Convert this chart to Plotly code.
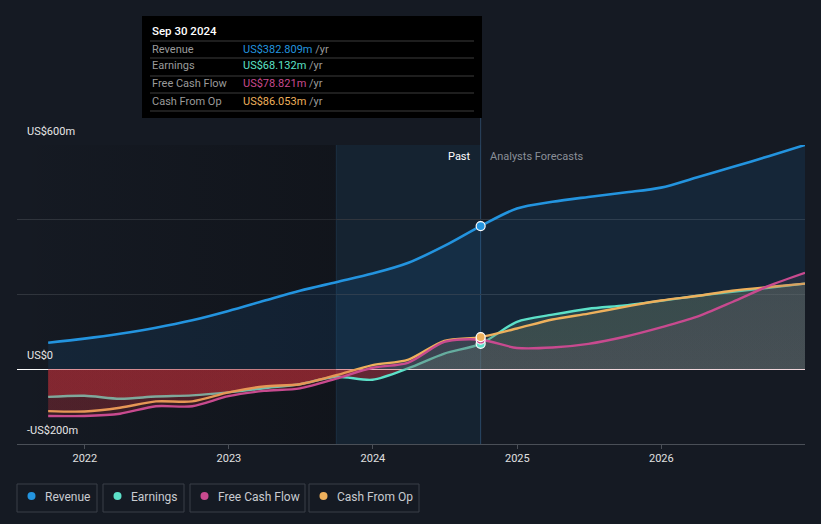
import plotly.graph_objects as go

# ---------------- DATA ----------------
past_dates = ["2021-09-30", "2021-12-31", "2022-03-31", "2022-06-30", "2022-09-30",
              "2022-12-31", "2023-03-31", "2023-06-30", "2023-09-30", "2023-12-31",
              "2024-03-31", "2024-06-30", "2024-09-30"]
fc_dates = ["2024-09-30", "2024-12-31", "2025-03-31", "2025-06-30", "2025-09-30",
            "2025-12-31", "2026-03-31", "2026-06-30", "2026-09-30", "2026-12-31"]

revenue_past = [71, 82, 95, 111, 131, 156, 183, 210, 233, 256, 285, 330, 383]
revenue_fc = [383, 430, 448, 461, 473, 486, 513, 541, 570, 600]

earnings_past = [-74, -71, -79, -73, -70, -62, -51, -40, -20, -28, 3, 42, 68]
earnings_fc = [68, 127, 146, 162, 171, 183, 196, 207, 218, 229]

fcf_past = [-125, -125, -119, -99, -99, -72, -58, -51, -25, 4, 18, 73, 79]
fcf_fc = [79, 57, 58, 68, 87, 112, 140, 180, 223, 258]

cfo_past = [-112, -113, -103, -86, -86, -62, -46, -40, -16, 11, 26, 76, 86]
cfo_fc = [86, 109, 133, 149, 167, 184, 196, 210, 220, 229]

tooltip_date = "Sep 30 2024"
tooltip_vals = {"Revenue": "382.809", "Earnings": "68.132",
                "Free Cash Flow": "78.821", "Cash From Op": "86.053"}

year_ticks = ["2022-01-01", "2023-01-01", "2024-01-01", "2025-01-01", "2026-01-01"]
year_labels = ["2022", "2023", "2024", "2025", "2026"]
y_labels = {600: "US$600m", 0: "US$0", -200: "-US$200m"}

# ---------------- STYLE ----------------
BG = "#151a23"
C_REV = "#2394df"
C_EARN = "#5ce0c8"
C_FCF = "#c84a8f"
C_CFO = "#eeb05c"
FONT = "Roboto"

X0, X1 = "2021-07-13", "2026-12-31"
Y0, Y1 = -200, 600
band_start, band_end = "2023-09-30", "2024-09-30"

L, R, T, B = 17, 16, 145, 80
W, H = 821, 524
PW, PH = W - L - R, H - T - B


def PX(x):
    return (x - L) / PW


def PY(y):
    return (H - B - y) / PH


def grad(neg, pos_lo, pos_hi):
    z = (0 - Y0) / (Y1 - Y0)
    return dict(type="vertical", start=Y0, stop=Y1,
                colorscale=[[0, neg], [z - 0.0001, neg], [z, pos_lo], [1, pos_hi]])


fig = go.Figure()

# darker left region (gradient)
fig.add_trace(go.Scatter(
    x=[X0, band_start, band_start, X0, X0], y=[Y0, Y0, Y1, Y1, Y0],
    mode="lines", line=dict(width=0), fill="toself",
    fillgradient=dict(type="horizontal",
                      colorscale=[[0, "rgba(8,8,10,0)"], [1, "rgba(8,8,10,0.3)"]]),
    hoverinfo="skip"))

rev_x = past_dates + fc_dates[1:]
rev_y = revenue_past + revenue_fc[1:]
fig.add_trace(go.Scatter(
    x=rev_x, y=rev_y, mode="lines",
    line=dict(color=C_REV, width=2.6, shape="spline", smoothing=0.9),
    fill="tozeroy", fillcolor="rgba(33,150,243,0.10)", hoverinfo="skip"))

series = [
    (earnings_past, earnings_fc, C_EARN,
     grad("rgba(205,45,55,0.42)", "rgba(90,150,130,0.26)", "rgba(90,150,130,0.2)")),
    (cfo_past, cfo_fc, C_CFO,
     grad("rgba(200,50,60,0.15)", "rgba(115,105,85,0.28)", "rgba(110,100,80,0.2)")),
    (fcf_past, fcf_fc, C_FCF,
     grad("rgba(200,50,60,0.20)", "rgba(115,90,115,0.18)", "rgba(110,80,110,0.12)")),
]
for past, fc, col, g in series:
    fig.add_trace(go.Scatter(
        x=past_dates + fc_dates[1:], y=past + fc[1:], mode="lines",
        line=dict(color=col, width=2.4, shape="spline", smoothing=0.8),
        fill="tozeroy", fillgradient=g, hoverinfo="skip"))

# markers at last actual point
for vals, col in [(earnings_past, C_EARN), (fcf_past, C_FCF), (cfo_past, C_CFO), (revenue_past, C_REV)]:
    fig.add_trace(go.Scatter(
        x=[past_dates[-1]], y=[vals[-1]], mode="markers",
        marker=dict(color=col, size=9, line=dict(color="white", width=1.2)),
        hoverinfo="skip"))

shapes = []
# highlight band
shapes.append(dict(type="rect", xref="x", yref="y", x0=band_start, x1=band_end,
                   y0=Y0, y1=Y1, fillcolor="rgba(33,150,243,0.07)", line_width=0, layer="below"))
shapes.append(dict(type="line", xref="x", yref="paper", x0=band_start, x1=band_start,
                   y0=0, y1=1, line=dict(color="rgba(60,110,160,0.25)", width=1), layer="below"))
shapes.append(dict(type="line", xref="x", yref="paper", x0=band_end, x1=band_end,
                   y0=0, y1=PY(118), line=dict(color="rgba(70,120,170,0.45)", width=1), layer="below"))

# tooltip box
shapes.append(dict(type="rect", xref="paper", yref="paper", x0=PX(142), x1=PX(482),
                   y0=PY(118), y1=PY(16), fillcolor="#000000", line_width=0, layer="above"))
for yy in [41, 58, 76, 93, 111]:
    shapes.append(dict(type="line", xref="paper", yref="paper", x0=PX(150), x1=PX(474),
                       y0=PY(yy), y1=PY(yy), line=dict(color="#3c3c3c", width=1), layer="above"))

annotations = []
annotations.append(dict(xref="paper", yref="paper", x=PX(150), y=PY(31), xanchor="left",
                        yanchor="middle", showarrow=False, text=tooltip_date,
                        font=dict(family=FONT, size=11.5, color="#ffffff", weight=500)))
row_y = [49, 66, 84, 101]
row_cols = [C_REV, C_EARN, C_FCF, C_CFO]
for (name, v), yy, col in zip(tooltip_vals.items(), row_y, row_cols):
    annotations.append(dict(xref="paper", yref="paper", x=PX(150), y=PY(yy), xanchor="left",
                            yanchor="middle", showarrow=False, text=name,
                            font=dict(family=FONT, size=11, color="#9a9a9a")))
    annotations.append(dict(xref="paper", yref="paper", x=PX(241), y=PY(yy), xanchor="left",
                            yanchor="middle", showarrow=False,
                            text=f"<span style='color:{col}'>US${v}m</span> /yr",
                            font=dict(family=FONT, size=11, color="#9a9a9a")))

# y labels
for val, txt in y_labels.items():
    annotations.append(dict(xref="paper", yref="y", x=PX(25), y=val, xanchor="left",
                            yanchor="bottom", yshift=5, showarrow=False, text=txt,
                            font=dict(family=FONT, size=11, color="#e6e6e6")))

annotations.append(dict(xref="x", yref="paper", x=band_end, y=PY(156), xanchor="right",
                        xshift=-8, yanchor="middle", showarrow=False, text="Past",
                        font=dict(family=FONT, size=11, color="#ffffff")))
annotations.append(dict(xref="x", yref="paper", x=band_end, y=PY(156), xanchor="left",
                        xshift=7, yanchor="middle", showarrow=False, text="Analysts Forecasts",
                        font=dict(family=FONT, size=11, color="#8a8f98")))

# legend boxes
legend_items = [("Revenue", C_REV, 17, 97), ("Earnings", C_EARN, 103, 184),
                ("Free Cash Flow", C_FCF, 190, 305), ("Cash From Op", C_CFO, 309, 419)]
for name, col, bx0, bx1 in legend_items:
    shapes.append(dict(type="rect", xref="paper", yref="paper", x0=PX(bx0), x1=PX(bx1),
                       y0=PY(512), y1=PY(484), line=dict(color="#3a3f48", width=1),
                       fillcolor="rgba(0,0,0,0)", layer="above"))
    cx, cy, r = bx0 + 14.5, 496, 4
    shapes.append(dict(type="circle", xref="paper", yref="paper", x0=PX(cx - r), x1=PX(cx + r),
                       y0=PY(cy + r), y1=PY(cy - r), fillcolor=col, line_width=0, layer="above"))
    annotations.append(dict(xref="paper", yref="paper", x=PX(bx0 + 26), y=PY(497), xanchor="left",
                            yanchor="middle", showarrow=False, text=name,
                            font=dict(family=FONT, size=12, color="#c8cbd0")))

fig.update_layout(
    width=W, height=H, margin=dict(l=L, r=R, t=T, b=B),
    paper_bgcolor=BG, plot_bgcolor=BG, showlegend=False, hovermode=False,
    shapes=shapes, annotations=annotations,
    font=dict(family=FONT),
    xaxis=dict(type="date", range=[X0, X1], tickvals=year_ticks, ticktext=year_labels,
               showgrid=False, zeroline=False, showline=True, linecolor="#4a4f57", linewidth=1,
               ticks="outside", ticklen=4, tickcolor="#4a4f57",
               tickfont=dict(family=FONT, size=11, color="#e0e0e0")),
    yaxis=dict(range=[Y0, Y1], tickvals=[-200, 0, 200, 400, 600], showticklabels=False,
               showgrid=True, gridcolor="#30353d", gridwidth=1,
               zeroline=True, zerolinecolor="#ffffff", zerolinewidth=1),
)

fig.write_html("out.html", config={"displayModeBar": False},
               post_script="document.body.style.margin='0';document.body.style.background='%s';" % BG)
